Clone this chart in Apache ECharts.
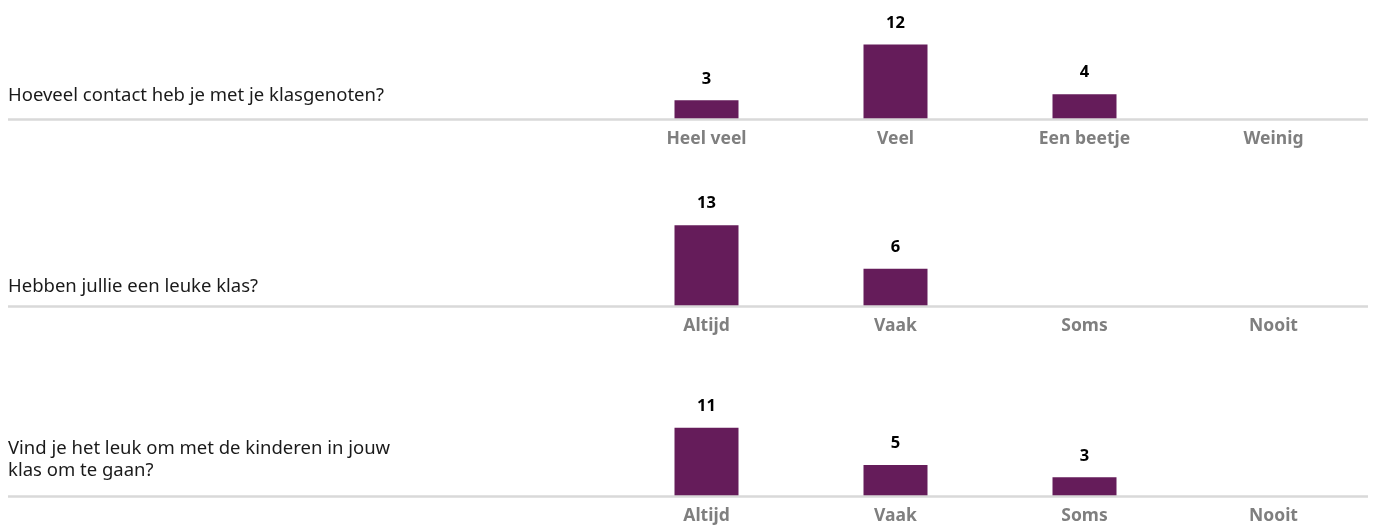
<!DOCTYPE html>
<html>
<head>
<meta charset="utf-8">
<script src="https://cdn.jsdelivr.net/npm/echarts@6/dist/echarts.min.js"></script>
<style>
  html, body { margin: 0; padding: 0; background: #fff; }
  #chart { width: 1375px; height: 526px; }
</style>
</head>
<body>
<div id="chart"></div>
<script>
// questions + answers
var questions = [
  'Hoeveel contact heb je met je klasgenoten?',
  'Hebben jullie een leuke klas?',
  'Vind je het leuk om met de kinderen in jouw\nklas om te gaan?'
];
var cats1 = ['Heel veel', 'Veel', 'Een beetje', 'Weinig'];
var cats2 = ['Altijd', 'Vaak', 'Soms', 'Nooit'];
var cats3 = ['Altijd', 'Vaak', 'Soms', 'Nooit'];
var vals1 = [3, 12, 4, 0];
var vals2 = [13, 6, 0, 0];
var vals3 = [11, 5, 3, 0];

var allCats = [cats1, cats2, cats3];
var allVals = [vals1, vals2, vals3];

// layout
var axisY = [119, 306, 496];
var textTop = [80, 271, 433];
var gridLeft = 612;
var gridRight = 7;
var plotH = 87;
var yMax = 14;
var purple = '#651c5a';
var lineCol = '#d9d9d9';

var grids = [], xAxes = [], yAxes = [], series = [], titles = [], graphics = [];

for (var i = 0; i < 3; i++) {
  grids.push({ left: gridLeft, right: gridRight, top: axisY[i] - plotH, height: plotH });
  xAxes.push({
    type: 'category', gridIndex: i, data: allCats[i],
    axisLine: { show: false },
    axisTick: { show: false },
    axisLabel: { color: '#7f7f7f', fontWeight: 'bold', fontSize: 17.5, fontFamily: 'Noto Sans', margin: 11 }
  });
  yAxes.push({ type: 'value', gridIndex: i, min: 0, max: yMax, show: false, splitLine: { show: false } });
  series.push({
    type: 'bar', xAxisIndex: i, yAxisIndex: i, data: allVals[i],
    barWidth: 64,
    itemStyle: { color: purple },
    label: {
      show: true, position: 'top', distance: 13,
      color: '#000', fontWeight: 'bold', fontSize: 16.5, fontFamily: 'Noto Sans',
      formatter: function (p) { return p.value === 0 ? '' : p.value; }
    }
  });
  titles.push({
    text: questions[i], left: 3, top: textTop[i],
    textStyle: { color: '#1a1a1a', fontWeight: 'normal', fontSize: 18.5, fontFamily: 'Noto Sans', lineHeight: 22 }
  });
  // baseline across the whole row (question column + bars)
  graphics.push({
    type: 'line', silent: true, z: 10,
    shape: { x1: 8, y1: axisY[i] + 0.5, x2: 1375 - gridRight, y2: axisY[i] + 0.5 },
    style: { stroke: lineCol, lineWidth: 2.5 }
  });
}

var chart = echarts.init(document.getElementById('chart'));
chart.setOption({
  animation: false,
  title: titles,
  grid: grids,
  xAxis: xAxes,
  yAxis: yAxes,
  series: series,
  graphic: graphics
});
</script>
</body>
</html>
